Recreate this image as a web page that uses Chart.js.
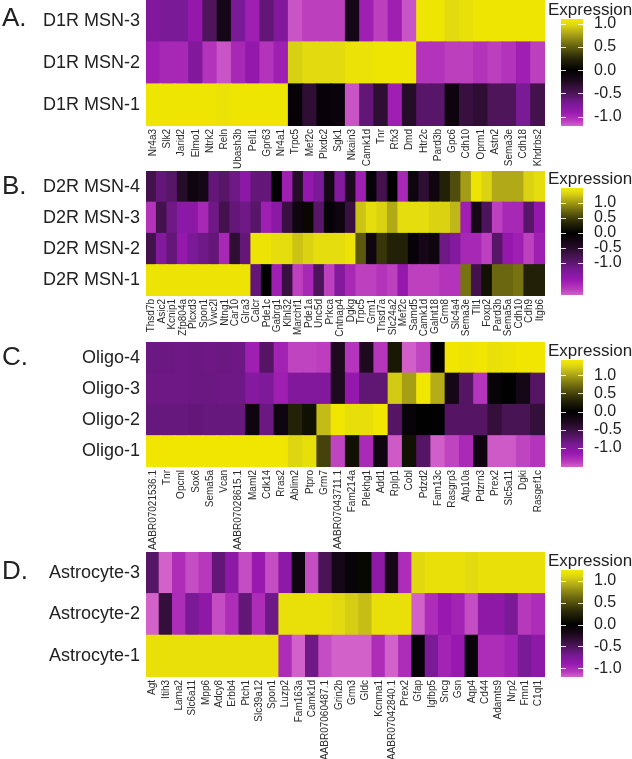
<!DOCTYPE html>
<html>
<head>
<meta charset="utf-8">
<script src="https://cdn.jsdelivr.net/npm/chart.js@4.4.1/dist/chart.umd.min.js"></script>
<style>
  body { margin: 0; background: #fff; width: 632px; height: 759px; position: relative; overflow: hidden;
         font-family: 'Liberation Sans', Arial, sans-serif; color: #222; }
  canvas { position: absolute; }
  .letter { position: absolute; left: 2px; font-size: 26px; line-height: 30px; }
  .legtitle { position: absolute; left: 548px; font-size: 17px; line-height: 20px; white-space: nowrap; }
</style>
</head>
<body>
<script>
const FONT = "'Liberation Sans', Arial, sans-serif";

// ---- A. D1R MSN ----
const aRows = ['D1R MSN-3', 'D1R MSN-2', 'D1R MSN-1'];
const aGenes = ['Nr4a3','Slk2','Jarid2','Elmo1','Ntrk2','Reln','Ubash3b','Peli1','Gpr63','Nr4a1','Trpc5','Mef2c',
  'Plxdc2','Sgk1','Nkain3','Camk1d','Tnr','Rfx3','Dmd','Htr2c','Pard3b','Gpc6','Cdh10','Oprm1','Astn2','Sema3e','Cdh18','Khdrbs2'];
const aMsn3 = [-0.77,-0.72,-0.72,-0.88,-0.5,-0.17,-0.72,-0.94,-0.6,-0.77,-1.16,-1.1,-1.1,-1.1,-0.17,-0.94,-1.1,-0.94,-1.16,
  1.08,1.08,1.0,1.04,1.08,1.08,1.08,1.08,1.08];
const aMsn2 = [-0.94,-0.99,-0.99,-0.77,-1.05,-1.16,-0.99,-0.88,-1.05,-0.94,0.95,1.0,1.0,1.0,1.05,1.05,1.08,1.08,1.08,
  -1.05,-1.05,-1.1,-1.1,-1.05,-1.1,-1.05,-0.94,-1.1];
const aMsn1 = [1.08,1.08,1.08,1.08,1.08,1.05,1.08,1.08,1.08,1.08,-0.05,-0.33,-0.05,-0.08,-1.16,-0.6,-0.33,-0.94,-0.28,
  -0.55,-0.55,-0.1,-0.38,-0.33,-0.5,-0.5,-0.72,-0.44];

// ---- B. D2R MSN ----
const bRows = ['D2R MSN-4', 'D2R MSN-3', 'D2R MSN-2', 'D2R MSN-1'];
const bGenes = ['Thsd7b','Asic2','Kcnip1','Zfp804a','Plcxd3','Spon1','Vwc2l','Ntng1','Car10','Glra3','Calcr','Pde1c',
  'Gabrg1','Klhl32','Marchf1','Pde1a','Unc5d','Prkca','Cntnap4','Dgkg','Trpc5','Grm1','Thsd7a','Slc24a2','Mef2c','Samd5',
  'Camk1d','Galnt18','Grm8','Slc4a4','Sema3e','Tll1','Foxp2','Pard3b','Sema5a','Cdh10','Cdh9','Itgb6'];
const bMsn4 = [-0.76,-1.05,-0.95,-0.48,-0.19,-0.29,-1.05,-0.95,-1.14,-1.43,-1.05,-1.05,-0.04,-1.62,-0.48,-1.52,-1.24,-0.29,
  -1.33,-0.38,-1.62,-0.1,-0.76,0.0,-1.71,-0.19,-0.57,-0.19,0.29,0.58,1.02,1.45,1.31,1.09,1.09,1.09,1.31,1.38];
const bMsn3 = [-1.81,-0.76,-1.14,-1.43,-1.43,-1.71,-1.14,-0.76,-1.05,-1.14,-0.95,-1.62,-1.43,-0.67,-0.19,0.07,-0.95,-0.1,
  -0.19,-0.67,1.23,1.38,1.31,1.09,1.38,1.38,1.38,1.31,1.31,1.16,-1.62,-0.29,-0.86,-1.9,-1.71,-1.71,-0.95,-1.52];
const bMsn2 = [-0.76,-1.33,-1.05,-1.52,-1.24,-1.14,-1.05,-1.71,-0.57,-1.05,1.45,1.45,1.38,1.38,1.23,1.31,1.38,1.38,1.38,
  1.45,0.65,-0.19,0.44,0.29,0.29,-0.1,-0.29,-0.19,-1.14,-1.33,-1.71,-1.71,-1.9,-0.95,-1.52,-1.62,-1.9,-1.62];
const bMsn1 = [1.45,1.45,1.45,1.45,1.45,1.45,1.45,1.45,1.45,1.45,-1.05,0.0,-1.62,-0.67,-1.9,-1.71,-0.86,-1.9,-1.33,-1.71,
  -1.9,-1.9,-1.81,-1.9,-1.52,-1.9,-1.9,-1.9,-1.81,-1.81,0.8,-0.76,0.15,0.73,0.73,0.8,0.29,0.29];

// ---- C. Oligodendrocytes ----
const cRows = ['Oligo-4', 'Oligo-3', 'Oligo-2', 'Oligo-1'];
const cGenes = ['AABR07021536.1','Tnr','Opcml','Sox6','Sema5a','Vcan','AABR07028615.1','Maml2','Cdk14','Rras2','Ablim2',
  'Ptpro','Grm7','AABR07043711.1','Fam214a','Plekhg1','Add1','Rplp1','Cobl','Pdzd2','Fam13c','Rasgrp3','Atp10a','Pdzrn3',
  'Prex2','Slc5a11','Dgki','Rasgef1c'];
const cOligo4 = [-0.82,-0.82,-0.84,-0.82,-0.84,-0.82,-0.84,-1.2,-0.68,-1.22,-1.42,-1.42,-1.4,-0.3,-1.35,-0.3,-1.36,0.2,
  -1.52,-1.42,-0.02,1.4,1.38,1.4,1.34,1.38,1.4,1.4];
const cOligo3 = [-0.84,-0.84,-0.84,-0.82,-0.82,-0.84,-0.84,-1.0,-0.95,-1.2,-0.98,-0.98,-0.98,-0.3,-1.12,-0.75,-0.75,1.2,
  0.98,1.4,1.05,-0.22,-0.68,-1.35,-0.08,-0.02,-0.22,-0.68];
const cOligo2 = [-0.8,-0.8,-0.8,-0.78,-0.8,-0.8,-0.8,-0.15,-0.82,-0.15,0.28,0.14,1.12,1.4,1.33,1.33,1.4,-0.68,-0.08,-0.02,
  -0.02,-0.68,-0.68,-0.68,-0.45,-0.6,-0.6,-0.45];
const cOligo1 = [1.4,1.4,1.4,1.4,1.4,1.4,1.4,1.4,1.4,1.4,1.26,1.33,0.49,-1.42,0.14,-1.28,-0.15,-1.5,0.14,-0.68,-1.52,
  -1.42,-1.28,-0.15,-1.5,-1.5,-1.42,-1.35];

// ---- D. Astrocytes ----
const dRows = ['Astrocyte-3', 'Astrocyte-2', 'Astrocyte-1'];
const dGenes = ['Agt','Itih3','Lama2','Slc6a11','Mpp6','Adcy8','Erbb4','Ptch1','Slc39a12','Spon1','Luzp2','Fam163a',
  'Camk1d','AABR07060487.1','Grin2b','Grm3','Gldc','Kcnma1','AABR07042840.1','Prex2','Gfap','Igfbp5','Sncg','Gsn','Aqp4',
  'Cd44','Adamts9','Nrp2','Fmn1','C1ql1'];
const dAstro3 = [-0.54,-1.2,-1.02,-1.14,-1.08,-0.6,-0.84,-1.14,-0.9,-1.14,-0.84,-0.12,-1.14,-0.48,-0.18,-0.06,0.06,-0.84,
  -0.18,-1.02,1.12,1.18,1.18,1.18,1.13,1.18,1.18,1.18,1.18,1.18];
const dAstro2 = [-1.2,-0.36,-1.02,-0.72,-0.84,-1.14,-1.02,-0.6,-1.02,-0.66,1.18,1.18,1.18,1.18,1.13,1.07,1.0,1.18,1.18,
  1.18,-1.2,-1.02,-0.9,-0.96,-1.14,-0.84,-0.84,-0.72,-1.08,-1.02];
const dAstro1 = [1.18,1.18,1.18,1.18,1.18,1.18,1.18,1.18,1.18,1.18,-1.02,-1.2,-0.66,-1.14,-1.2,-1.2,-1.2,-1.02,-1.2,-1.02,
  -0.06,-0.72,-0.96,-0.9,-0.06,-1.02,-1.02,-0.96,-0.72,-0.84];

const legendTicks = [-1, -0.5, 0, 0.5, 1];

// colour scale: black at 0, yellow at the top of the range, purple -> pink at the bottom
const negStops = [[0, [0, 0, 0]], [0.2, [30, 10, 32]], [0.4, [74, 20, 86]], [0.6, [122, 26, 150]],
  [0.75, [152, 24, 176]], [0.9, [184, 56, 188]], [1, [210, 98, 202]]];
const posStops = [[0, [0, 0, 0]], [0.25, [44, 42, 8]], [0.5, [110, 106, 16]], [0.75, [184, 176, 24]],
  [0.9, [226, 218, 16]], [1, [242, 232, 0]]];

function expColor(v, lo, hi) {
  const stops = v < 0 ? negStops : posStops;
  const f = Math.max(0, Math.min(1, v < 0 ? v / lo : v / hi));
  for (let i = 1; i < stops.length; i++) {
    if (f <= stops[i][0]) {
      const [f0, c0] = stops[i - 1], [f1, c1] = stops[i];
      const t = (f - f0) / (f1 - f0);
      const c = c0.map((x, k) => Math.round(x + (c1[k] - x) * t));
      return `rgb(${c[0]},${c[1]},${c[2]})`;
    }
  }
  const c = stops[stops.length - 1][1];
  return `rgb(${c[0]},${c[1]},${c[2]})`;
}

function makeCanvas(left, top, w, h) {
  const c = document.createElement('canvas');
  c.width = w; c.height = h;
  c.style.left = left + 'px'; c.style.top = top + 'px';
  c.style.width = w + 'px'; c.style.height = h + 'px';
  document.body.appendChild(c);
  return c;
}

function addText(cls, text, top) {
  const d = document.createElement('div');
  d.className = cls; d.textContent = text; d.style.top = top + 'px';
  document.body.appendChild(d);
}

// keep the plot area where we put it: no extra room for the outer tick labels
const noPad = s => { s.paddingTop = 0; s.paddingBottom = 0; s.paddingLeft = 0; s.paddingRight = 0; };

function heatmap(rows, genes, values, lo, hi, top, height, labelH) {
  const n = rows.length;
  const canvas = makeCanvas(0, top - 12, 555, 12 + height + labelH);
  // first dataset is the bottom row
  const datasets = values.map(vals => ({
    data: genes.map(() => 1),
    backgroundColor: vals.map(v => expColor(v, lo, hi)),
    borderWidth: 0,
    barPercentage: 1,
    categoryPercentage: 1,
    inflateAmount: 0.6
  })).reverse();

  new Chart(canvas, {
    type: 'bar',
    data: { labels: genes, datasets },
    options: {
      responsive: false,
      animation: false,
      events: [],
      layout: { padding: { top: 12, right: 10, left: 0, bottom: 0 } },
      plugins: { legend: { display: false }, tooltip: { enabled: false } },
      scales: {
        x: {
          stacked: true,
          grid: { display: false, drawTicks: false },
          border: { display: false },
          ticks: { autoSkip: false, maxRotation: 90, minRotation: 90, padding: 3, color: '#2a2a2a',
                   font: { family: FONT, size: 10 } },
          afterFit: s => { s.height = labelH; noPad(s); }
        },
        y: {
          stacked: true,
          min: 0,
          max: n,
          grid: { display: false, drawTicks: false },
          border: { display: false },
          afterBuildTicks: s => { s.ticks = rows.map((_, i) => ({ value: n - i - 0.5 })); },
          ticks: { padding: 6, color: '#222', font: { family: FONT, size: 18 },
                   callback: v => rows[Math.round(n - 0.5 - v)] },
          afterFit: s => { s.width = 146; noPad(s); }
        }
      }
    }
  });
}

const tickMarks = {
  id: 'tickMarks',
  afterDatasetsDraw(chart) {
    const { ctx, chartArea: { left, right }, scales: { y } } = chart;
    ctx.save();
    ctx.strokeStyle = 'rgba(255,255,255,0.85)';
    ctx.lineWidth = 1;
    y.ticks.forEach(t => {
      const py = Math.round(y.getPixelForValue(t.value)) + 0.5;
      ctx.beginPath();
      ctx.moveTo(left, py); ctx.lineTo(left + 5, py);
      ctx.moveTo(right - 5, py); ctx.lineTo(right, py);
      ctx.stroke();
    });
    ctx.restore();
  }
};

function colorbar(lo, hi, barTop, barBottom) {
  addText('legtitle', 'Expression', barTop - 19);
  const canvas = makeCanvas(561, barTop - 12, 71, 12 + (barBottom - barTop) + 12);
  new Chart(canvas, {
    type: 'bar',
    data: {
      labels: [''],
      datasets: [{
        data: [[lo, hi]],
        borderWidth: 0,
        barPercentage: 1,
        categoryPercentage: 1,
        backgroundColor: c => {
          const ch = c.chart;
          if (!ch.chartArea) return '#000';
          const y = ch.scales.y;
          const g = ch.ctx.createLinearGradient(0, y.getPixelForValue(lo), 0, y.getPixelForValue(hi));
          for (let k = 0; k <= 40; k++) {
            g.addColorStop(k / 40, expColor(lo + (hi - lo) * k / 40, lo, hi));
          }
          return g;
        }
      }]
    },
    options: {
      responsive: false,
      animation: false,
      events: [],
      layout: { padding: { top: 12, bottom: 12, left: 0, right: 0 } },
      plugins: { legend: { display: false }, tooltip: { enabled: false } },
      scales: {
        x: { display: false },
        y: {
          position: 'right',
          min: lo,
          max: hi,
          grid: { display: false, drawTicks: false },
          border: { display: false },
          afterBuildTicks: s => { s.ticks = legendTicks.map(v => ({ value: v })); },
          ticks: { padding: 11, color: '#222', font: { family: FONT, size: 16 }, callback: v => v.toFixed(1) },
          afterFit: s => { s.width = 49; noPad(s); }
        }
      }
    },
    plugins: [tickMarks]
  });
}

heatmap(aRows, aGenes, [aMsn3, aMsn2, aMsn1], -1.2, 1.1, 0, 126, 46);
heatmap(bRows, bGenes, [bMsn4, bMsn3, bMsn2, bMsn1], -2.07, 1.5, 171, 125, 46);
heatmap(cRows, cGenes, [cOligo4, cOligo3, cOligo2, cOligo1], -1.53, 1.42, 342, 125, 88);
heatmap(dRows, dGenes, [dAstro3, dAstro2, dAstro1], -1.2, 1.25, 552, 125, 88);

colorbar(-1.2, 1.1, 19, 126);
colorbar(-2.07, 1.5, 188, 295);
colorbar(-1.53, 1.42, 360, 467);
colorbar(-1.2, 1.25, 570, 677);

addText('letter', 'A.', 2);
addText('letter', 'B.', 170);
addText('letter', 'C.', 341);
addText('letter', 'D.', 555);
</script>
</body>
</html>
